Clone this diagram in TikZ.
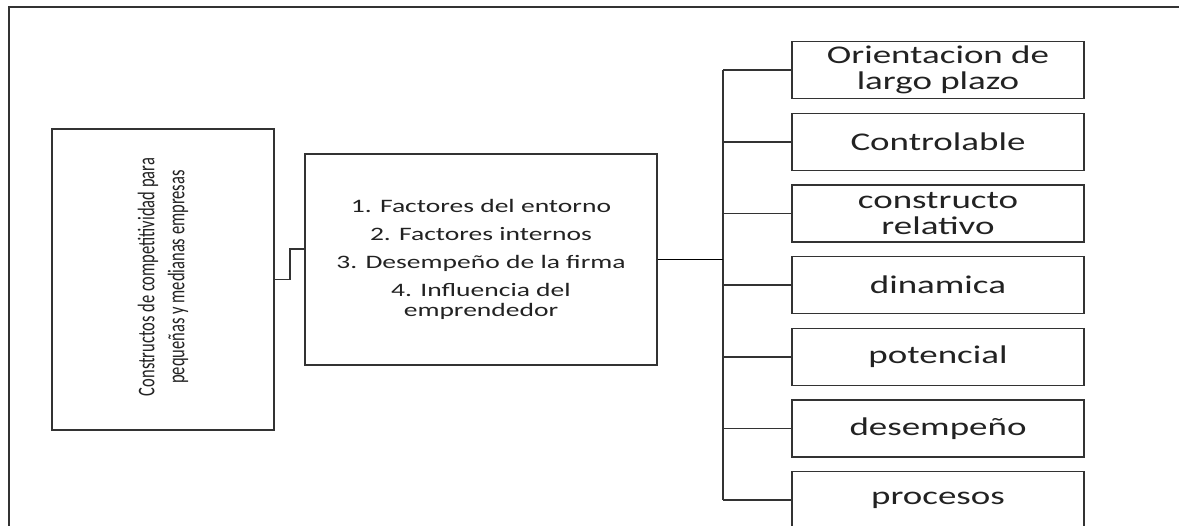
\documentclass[tikz,border=0pt]{standalone}
\usepackage{fontspec}
\newfontfamily\hfont[FakeStretch=1.45]{Carlito}
\newfontfamily\vfont[FakeStretch=0.69]{Carlito}
\definecolor{linec}{HTML}{333333}
\definecolor{textc}{HTML}{222222}
\begin{document}
\begin{tikzpicture}[x=1pt,y=-1pt,
  box/.style={draw=linec,line width=1.4pt,fill=none,inner sep=0pt,text=textc},
  rbox/.style={box,minimum width=292pt,minimum height=57pt,align=center,
    font=\hfont\fontsize{25.5}{26}\selectfont},
  conn/.style={draw=linec,line width=1.3pt},
  bigconn/.style={draw=black,line width=1.8pt}]
\useasboundingbox (0,0) rectangle (1179,526);
\clip (0,0) rectangle (1179,526);
\draw[linec,line width=1.4pt] (9,7) rectangle (1200,560);
% left box
\node[box,minimum width=222pt,minimum height=301pt] (L) at (163,279.5) {};
\node[rotate=90,align=center,text=textc,inner sep=0pt,
  font=\vfont\fontsize{23.9}{30}\selectfont] (Lt) at (163,277)
  {Constructos de competitividad para\\pequeñas y medianas empresas};
% middle box
\node[box,minimum width=352pt,minimum height=211pt,align=center,
  font=\hfont\fontsize{19}{28}\selectfont] (M) at (481,259.5)
  {1. Factores del entorno\\2. Factores internos\\3. Desempeño de la firma\\4. Influencia del\\[-8pt]emprendedor};
% right boxes
\node[rbox] (R1) at (938,70) {Orientacion de\\largo plazo};
\node[rbox] (R2) at (938,142) {Controlable};
\node[rbox] (R3) at (938,213.5) {constructo\\relativo};
\node[rbox] (R4) at (938,285) {dinamica};
\node[rbox] (R5) at (938,357) {potencial};
\node[rbox] (R6) at (938,428.5) {desempeño};
\node[rbox] (R7) at (938,500) {procesos};
% connectors
\coordinate (j1) at (290,249);
\draw[conn] (L.east) -| (j1) -- (j1 -| M.west);
\coordinate (bt) at (723,70);
\coordinate (bb) at (723,500);
\draw[conn] (bt) -- (bb);
\draw[bigconn] (M.east) -- (M.east -| bt);
\foreach \r in {R1,R2,R3,R4,R5,R6,R7}{
  \draw[conn] (\r.west) -- (\r.west -| bt);
}
\end{tikzpicture}
\end{document}
